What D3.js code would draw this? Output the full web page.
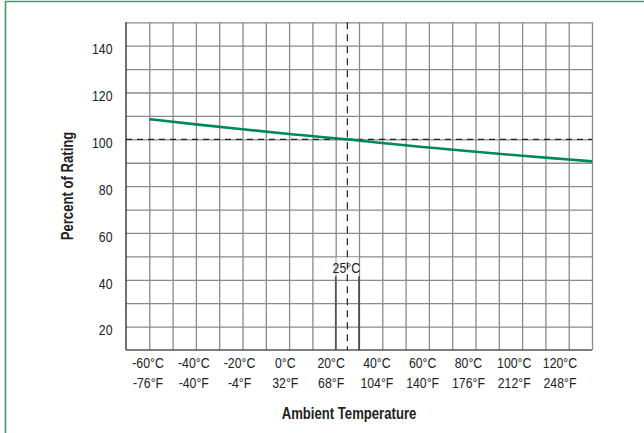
<!DOCTYPE html>
<html>
<head>
<meta charset="utf-8">
<script src="https://cdn.jsdelivr.net/npm/d3@7"></script>
<style>
  html, body { margin: 0; padding: 0; background: #fff; }
  svg { display: block; }
  text { font-family: "Liberation Sans", Arial, sans-serif; fill: #222; }
</style>
</head>
<body>
<svg id="chart" width="644" height="433"></svg>
<script>
// ---- data ----
const tempsC   = [-60, -40, -20, 0, 20, 25, 40, 60, 80, 100, 120, 130];
const percent  = [108.6, 106.4, 104.3, 102.3, 100.4, 100, 98.4, 96.5, 94.7, 93.0, 91.4, 90.6];
const yTicks   = [20, 40, 60, 80, 100, 120, 140];
const xLabelsC = ["-60°C", "-40°C", "-20°C", "0°C", "20°C", "40°C", "60°C", "80°C", "100°C", "120°C"];
const xLabelsF = ["-76°F", "-40°F", "-4°F", "32°F", "68°F", "104°F", "140°F", "176°F", "212°F", "248°F"];
const refTemp  = 25;
const refPct   = 100;
const xTitle   = "Ambient Temperature";
const yTitle   = "Percent of Rating";

// ---- layout ----
const svg = d3.select("#chart");
const pLeft = 126, pRight = 592, pTop = 22.3, pBottom = 350;
const NARROW = 0.82; // condensed look

const x = d3.scaleLinear().domain([-70, 130]).range([pLeft, pRight]);
const y = d3.scaleLinear().domain([10, 150]).range([pBottom, pTop]);
const xLab = d3.scalePoint().domain(xLabelsC).range([148, 560]);

function narrowText(parent, px, py, str, opts = {}) {
  const g = parent.append("g").attr("transform", `translate(${px},${py}) ${opts.rotate ? "rotate(" + opts.rotate + ")" : ""} scale(${NARROW},1)`);
  const t = g.append("text").attr("text-anchor", opts.anchor || "middle")
    .style("font-size", (opts.size || 14.5) + "px").text(str);
  if (opts.bold) t.style("font-weight", "bold");
  return t;
}

// frame border (green)
svg.append("path")
  .attr("d", `M5.5,440 L5.5,1.5 L650,1.5`)
  .attr("fill", "none").attr("stroke", "#3f9a6e").attr("stroke-width", 1.6);

// grid
const grid = svg.append("g");
grid.append("g")
  .attr("transform", `translate(0,${pBottom})`)
  .call(d3.axisBottom(x).tickValues(d3.range(-60, 131, 10)).tickSize(-(pBottom - pTop)).tickFormat(""))
  .call(g => g.select(".domain").remove())
  .call(g => g.selectAll("line").attr("stroke", "#8a8a8a").attr("stroke-width", 1.3));
grid.append("g")
  .attr("transform", `translate(${pLeft},0)`)
  .call(d3.axisLeft(y).tickValues(d3.range(20, 151, 10)).tickSize(-(pRight - pLeft)).tickFormat(""))
  .call(g => g.select(".domain").remove())
  .call(g => g.selectAll("line").attr("stroke", "#8a8a8a").attr("stroke-width", 1.3));

// axes lines (dark)
svg.append("line").attr("x1", pLeft).attr("x2", pLeft).attr("y1", pTop).attr("y2", pBottom)
  .attr("stroke", "#333").attr("stroke-width", 1.4);
svg.append("line").attr("x1", pLeft).attr("x2", pRight).attr("y1", pBottom).attr("y2", pBottom)
  .attr("stroke", "#555").attr("stroke-width", 1.4);

// y tick labels
svg.append("g")
  .attr("transform", `translate(${pLeft},0)`)
  .call(d3.axisLeft(y).tickValues(yTicks).tickSize(0).tickPadding(13))
  .call(g => g.select(".domain").remove())
  .call(g => g.selectAll("text")
      .attr("x", -13.5 / NARROW)
      .attr("dy", "0.55em")
      .attr("transform", `scale(${NARROW},1)`)
      .style("font-size", "15px")
      .style("font-family", '"Liberation Sans", Arial, sans-serif')
      .attr("fill", "#222"));

// x tick labels (two rows)
const xl = svg.append("g");
xLabelsC.forEach((c, i) => {
  narrowText(xl, xLab(c), 368, c, { size: 15 });
  narrowText(xl, xLab(c), 388, xLabelsF[i], { size: 15 });
});

// 25°C marker box
const bx0 = x(20), bx1 = x(30);
svg.append("rect").attr("x", bx0 + 0.8).attr("y", y(50) + 1).attr("width", bx1 - bx0 - 1.6)
  .attr("height", y(41.5) - y(50) - 1).attr("fill", "#fff");
svg.append("line").attr("x1", bx0).attr("x2", bx0).attr("y1", y(41.5)).attr("y2", pBottom)
  .attr("stroke", "#555").attr("stroke-width", 1.6);
svg.append("line").attr("x1", bx1).attr("x2", bx1).attr("y1", y(41.5)).attr("y2", pBottom)
  .attr("stroke", "#333").attr("stroke-width", 1.4);
narrowText(svg, x(refTemp) - 1, 273, refTemp + "°C", { size: 15 });

// reference dashed lines
svg.append("line").attr("x1", pLeft).attr("x2", pRight).attr("y1", y(refPct)).attr("y2", y(refPct))
  .attr("stroke", "#222").attr("stroke-width", 1.2).attr("stroke-dasharray", "6,5");
svg.append("line").attr("x1", x(refTemp)).attr("x2", x(refTemp)).attr("y1", pTop).attr("y2", pBottom)
  .attr("stroke", "#222").attr("stroke-width", 1.2).attr("stroke-dasharray", "7,5");

// data line
const pts = tempsC.map((t, i) => [t, percent[i]]);
svg.append("path")
  .datum(pts)
  .attr("fill", "none")
  .attr("stroke", "#00875a")
  .attr("stroke-width", 2.6)
  .attr("d", d3.line().x(d => x(d[0])).y(d => y(d[1])).curve(d3.curveMonotoneX));

// axis titles
narrowText(svg, 349, 419, xTitle, { size: 16, bold: true });
narrowText(svg, 73, 186, yTitle, { size: 16, bold: true, rotate: -90 });
</script>
</body>
</html>
